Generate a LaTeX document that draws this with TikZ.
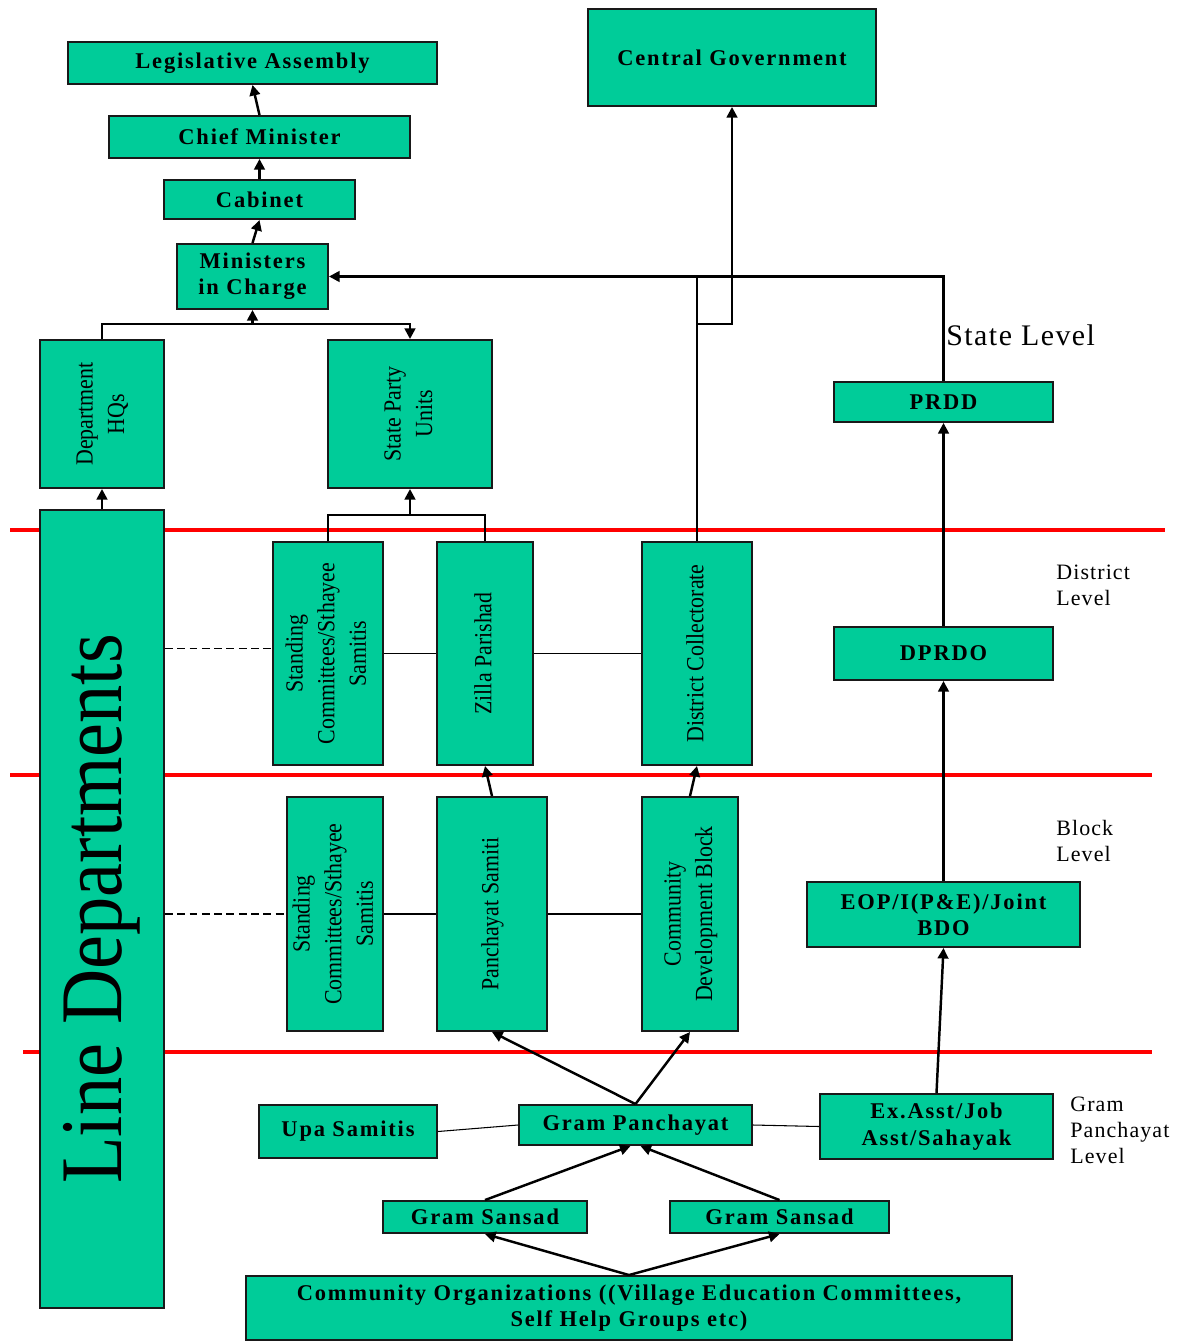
\documentclass[tikz,border=0pt]{standalone}
\usepackage{fontspec}
\usepackage{graphicx}
\setmainfont{Liberation Serif}
\newfontfamily\boxfont[LetterSpace=8]{Liberation Serif}
\newfontfamily\vertfont[FakeStretch=0.89]{Liberation Serif}
\newfontfamily\bigfont[FakeStretch=0.87]{Liberation Serif}
\newfontfamily\lvlfont[LetterSpace=5]{Liberation Serif}
\usetikzlibrary{arrows.meta,calc}
\definecolor{figline}{RGB}{25,25,25}
\definecolor{figfill}{RGB}{0,204,153}
\definecolor{figlevel}{RGB}{255,0,0}
\newcommand\vtxt[1]{\rotatebox{90}{\begin{tabular}{@{}c@{}}#1\end{tabular}}}
\tikzset{
  bx/.style 2 args={minimum width=#1*0.02cm, minimum height=#2*0.02cm},
  hbox/.style ={draw=figline, fill=figfill, line width=1.1pt, inner sep=0pt, align=center,
                font=\boxfont\bfseries\fontsize{12.8}{15}\selectfont},
  vbox/.style ={draw=figline, fill=figfill, line width=1.1pt, inner sep=0pt,
                font=\vertfont\fontsize{14}{18}\selectfont},
  lvl/.style  ={font=\lvlfont\fontsize{12.5}{14.7}\selectfont, inner sep=0pt, anchor=west, align=left},
  lvlline/.style={draw=figlevel, line width=2.8pt},
  con/.style  ={draw=black, line width=1.4pt},
  arr/.style  ={con, -{Triangle[length=6pt,width=6pt]}},
  lnk/.style  ={draw=black, line width=0.6pt},
  dsh/.style  ={draw=black, line width=0.9pt, dash pattern=on 4.5pt off 2.5pt},
}
\begin{document}
\begin{tikzpicture}[x=0.02cm,y=-0.02cm]
  \useasboundingbox (0,0) rectangle (1191,1341);
  % level separators
  \draw[lvlline] (10,530) -- (1165,530);
  \draw[lvlline] (10,775) -- (1152,775);
  \draw[lvlline] (23,1052) -- (1152,1052);
  % state level
  \node[hbox,bx={369}{42}] (la) at (252.5,63) {Legislative Assembly};
  \node[hbox,bx={301}{42}] (cm) at (259.5,137) {Chief Minister};
  \node[hbox,bx={191}{39}] (cab) at (259.5,199.5) {Cabinet};
  \node[hbox,bx={151}{65}] (mic) at (252.5,276.5) {Ministers\\in Charge};
  \node[hbox,bx={288}{97}] (cg) at (732,57.5) {Central Government};
  \node[vbox,bx={124}{148}] (dhq) at (102,414) {\vtxt{Department\\HQs}};
  \node[vbox,bx={164}{148}] (spu) at (410,414) {\vtxt{State Party\\Units}};
  \node[hbox,bx={219}{40}] (prdd) at (943.5,402) {PRDD};
  \node[vbox,bx={124}{798},font=\bigfont\fontsize{50}{55}\selectfont] (ld) at (102,909) {\rotatebox{90}{Line Departments}};
  % district level
  \node[vbox,bx={110}{223}] (scd) at (328,653.5) {\vtxt{Standing\\Committees/Sthayee\\Samitis}};
  \node[vbox,bx={96}{223}] (zp) at (485,653.5) {\vtxt{Zilla Parishad}};
  \node[vbox,bx={110}{223}] (dc) at (697,653.5) {\vtxt{District Collectorate}};
  \node[hbox,bx={219}{53}] (dprdo) at (943.5,653.5) {DPRDO};
  % block level
  \node[vbox,bx={96}{234}] (scb) at (335,914) {\vtxt{Standing\\Committees/Sthayee\\Samitis}};
  \node[vbox,bx={110}{234}] (ps) at (492,914) {\vtxt{Panchayat Samiti}};
  \node[vbox,bx={96}{234}] (cdb) at (690,914) {\vtxt{Community\\Development Block}};
  \node[hbox,bx={273}{65}] (eop) at (943.5,914.5) {EOP/I(P\&E)/Joint\\BDO};
  % gram panchayat level
  \node[hbox,bx={178}{53}] (us) at (348,1131.5) {Upa Samitis};
  \node[hbox,bx={233}{40}] (gp) at (635.5,1125) {Gram Panchayat};
  \node[hbox,bx={233}{65}] (ea) at (936.5,1126.5) {Ex.Asst/Job\\Asst/Sahayak};
  \node[hbox,bx={204}{32}] (gs1) at (485,1217) {Gram Sansad};
  \node[hbox,bx={219}{32}] (gs2) at (779.5,1217) {Gram Sansad};
  \node[hbox,bx={766}{64}] (co) at (629,1308) {Community Organizations ((Village Education Committees,\\Self Help Groups etc)};
  % level labels
  \node[lvl,font=\lvlfont\fontsize{17}{20}\selectfont] (lstate) at (946,335) {State Level};
  \node[lvl] (ldist) at (1056,585) {District\\Level};
  \node[lvl] (lblock) at (1056,841) {Block\\Level};
  \node[lvl] (lgp) at (1070,1130) {Gram\\Panchayat\\Level};
  % junctions
  \coordinate (topj) at (252.5,324);
  \coordinate (zpj) at (410,515);
  \coordinate (dcj) at (dc.north |- mic.east);
  \coordinate (cgj) at (dc.north |- topj);
  % connectors
  \draw[arr] (cm.north) -- (la.south);
  \draw[arr] (cab.north) -- (cm.south);
  \draw[arr] (mic.north) -- (cab.south);
  \draw[arr] (dhq.north) |- (topj) -| (spu.north);
  \draw[arr] (topj) -- (mic.south);
  \draw[arr] (ld.north) -- (dhq.south);
  \draw[con] (scd.north) |- (zpj) -| (zp.north);
  \draw[arr] (zpj) -- (spu.south);
  \draw[arr] (dc.north) |- (mic.east);
  \draw[con] (prdd.north) |- (dcj);
  \draw[arr] (cgj) -| (cg.south);
  \draw[arr] (dprdo.north) -- (prdd.south);
  \draw[arr] (eop.north) -- (dprdo.south);
  \draw[arr] (ea.north) -- (eop.south);
  \draw[arr] (ps.north) -- (zp.south);
  \draw[arr] (cdb.north) -- (dc.south);
  \draw[arr] (gp.north) -- (ps.south);
  \draw[arr] (gp.north) -- (cdb.south);
  \draw[arr] (gs1.north) -- ($(gp.south)+(-5,0)$);
  \draw[arr] (gs2.north) -- ($(gp.south)+(5,0)$);
  \draw[arr] (co.north) -- (gs1.south);
  \draw[arr] (co.north) -- (gs2.south);
  % side links
  \draw[dsh] ($(scd.west -| ld.east)+(0,-5)$) -- ($(scd.west)+(0,-5)$);
  \draw[lnk] (scd.east) -- (zp.west);
  \draw[lnk] (zp.east) -- (dc.west);
  \draw[dsh] (scb.west -| ld.east) -- (scb.west);
  \draw[lnk] (scb.east) -- (ps.west);
  \draw[lnk] (ps.east) -- (cdb.west);
  \draw[lnk] (us.east) -- (gp.west);
  \draw[lnk] (gp.east) -- (ea.west);
\end{tikzpicture}
\end{document}
